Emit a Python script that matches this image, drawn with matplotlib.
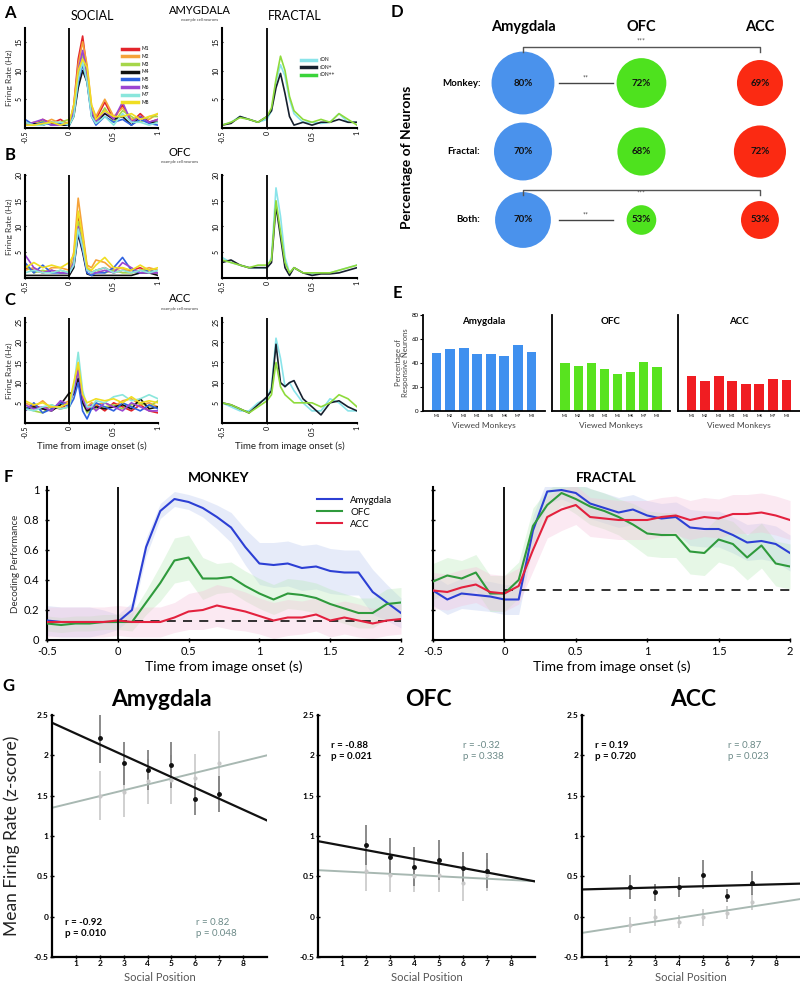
import numpy as np
import matplotlib
matplotlib.use('Agg')
import matplotlib.pyplot as plt
from matplotlib.lines import Line2D

plt.rcParams['font.family'] = ['Lato', 'DejaVu Sans']

W, H = 800, 993

# ---------------- A-C: example PSTHs ----------------
psth_t = [-0.5, -0.4, -0.3, -0.2, -0.1, 0.0, 0.05, 0.1, 0.15, 0.2, 0.25, 0.3,
          0.4, 0.5, 0.6, 0.7, 0.8, 0.9, 1.0]

social_labels = ['M1', 'M2', 'M3', 'M4', 'M5', 'M6', 'M7', 'M8']
fractal_labels = ['sDN', 'sDN+', 'sDN++']

amy_social = [
    [1.0, 0.5, 1.5, 0.8, 1.5, 0.5, 4.0, 12.0, 16.0, 10.0, 3.0, 1.5, 4.5, 1.5, 4.0, 1.0, 2.5, 1.0, 1.5],
    [0.5, 1.0, 0.8, 1.5, 0.8, 1.0, 3.5, 11.0, 15.0, 11.0, 4.0, 2.0, 5.0, 2.0, 3.5, 1.5, 2.0, 1.5, 2.5],
    [1.0, 0.5, 1.2, 0.5, 1.0, 1.5, 3.0, 9.0, 13.0, 9.0, 3.0, 1.0, 3.5, 1.0, 3.0, 2.0, 1.0, 2.0, 2.0],
    [0.5, 0.8, 0.5, 1.0, 0.5, 0.5, 2.0, 7.0, 10.0, 8.0, 2.5, 1.0, 2.5, 1.5, 2.0, 0.5, 2.0, 1.0, 1.0],
    [1.5, 0.5, 1.0, 0.5, 0.8, 0.5, 2.5, 8.0, 11.0, 8.0, 2.0, 0.5, 2.0, 1.0, 1.5, 0.5, 1.5, 0.8, 0.5],
    [0.5, 1.0, 1.5, 0.5, 0.5, 1.0, 3.0, 10.0, 13.5, 9.5, 3.0, 1.0, 3.0, 1.5, 4.5, 1.0, 2.0, 1.0, 1.5],
    [1.0, 0.5, 0.5, 1.0, 1.0, 0.5, 2.0, 8.5, 11.5, 8.0, 2.0, 0.8, 2.0, 0.5, 2.5, 1.0, 1.0, 0.5, 1.0],
    [0.5, 0.5, 0.8, 1.0, 0.5, 1.0, 4.0, 10.0, 12.0, 10.5, 4.0, 1.5, 3.0, 2.0, 2.0, 2.5, 1.5, 2.0, 2.5],
]
amy_fractal = [
    [0.5, 1.0, 2.0, 1.5, 1.0, 1.5, 3.0, 8.0, 11.0, 9.0, 5.0, 2.5, 1.0, 1.0, 0.8, 1.0, 2.5, 1.0, 1.0],
    [0.5, 0.8, 2.0, 1.5, 1.0, 2.0, 3.0, 7.0, 9.5, 6.0, 2.0, 0.5, 1.0, 0.5, 1.0, 1.0, 1.5, 1.0, 1.0],
    [0.5, 1.0, 1.8, 1.5, 1.0, 2.0, 3.5, 8.5, 12.5, 10.0, 5.5, 3.0, 1.5, 1.0, 1.5, 1.0, 2.5, 1.5, 0.5],
]
ofc_social = [
    [2.0, 1.5, 1.0, 1.5, 1.0, 1.0, 3.0, 12.0, 8.0, 2.0, 1.0, 1.5, 2.0, 1.0, 1.5, 1.5, 2.0, 1.0, 1.0],
    [1.5, 2.0, 1.0, 2.0, 2.0, 1.5, 5.0, 15.5, 9.0, 2.5, 2.0, 3.5, 3.0, 1.5, 2.0, 1.0, 1.5, 2.0, 1.5],
    [2.5, 1.0, 1.5, 1.0, 1.5, 1.0, 3.5, 11.0, 7.0, 2.0, 1.0, 1.5, 1.0, 1.5, 1.0, 1.0, 1.5, 1.5, 1.0],
    [0.5, 0.5, 0.5, 0.5, 0.5, 0.5, 2.0, 8.5, 5.0, 0.8, 0.5, 0.5, 0.5, 0.5, 0.5, 0.5, 1.0, 1.0, 0.5],
    [3.0, 1.0, 2.5, 1.0, 1.0, 1.0, 2.5, 9.0, 5.5, 1.0, 0.5, 1.0, 1.0, 2.0, 4.0, 1.5, 1.0, 1.5, 1.0],
    [4.5, 2.0, 1.0, 1.5, 1.0, 1.0, 3.0, 10.0, 6.0, 1.5, 1.0, 1.0, 1.5, 1.0, 3.0, 2.0, 1.0, 1.0, 1.0],
    [1.0, 1.5, 1.0, 1.0, 1.5, 1.0, 2.5, 9.5, 6.0, 1.5, 1.0, 1.5, 2.0, 1.0, 1.5, 1.0, 1.5, 1.0, 1.5],
    [2.0, 3.0, 2.0, 2.5, 2.0, 3.0, 4.5, 13.0, 8.0, 2.0, 1.5, 2.5, 4.0, 2.0, 2.0, 1.5, 2.5, 1.5, 2.0],
]
ofc_fractal = [
    [4.0, 3.0, 2.5, 2.0, 2.0, 2.0, 4.0, 17.5, 12.0, 4.0, 1.0, 2.0, 1.0, 0.8, 1.0, 1.0, 1.5, 2.0, 2.5],
    [3.0, 3.5, 2.5, 2.0, 2.0, 2.0, 3.0, 14.0, 8.0, 2.0, 0.5, 2.0, 1.0, 0.5, 0.8, 0.8, 1.0, 1.5, 2.0],
    [3.5, 3.0, 2.5, 2.0, 2.5, 2.5, 3.5, 15.0, 9.0, 3.0, 1.0, 2.0, 1.0, 1.0, 1.0, 1.0, 1.5, 2.0, 2.5],
]
acc_social = [
    [3.0, 4.5, 3.5, 4.0, 3.5, 5.0, 8.0, 13.0, 6.0, 3.0, 4.0, 4.5, 3.0, 5.0, 4.0, 3.0, 4.5, 3.0, 2.5],
    [5.0, 4.0, 5.5, 3.5, 4.5, 5.5, 9.0, 14.0, 7.0, 4.0, 5.0, 4.5, 5.0, 4.0, 5.5, 6.0, 4.5, 5.0, 4.0],
    [4.0, 3.0, 2.5, 4.5, 3.5, 4.0, 8.0, 12.0, 5.0, 2.5, 3.5, 3.5, 4.0, 4.5, 3.5, 4.5, 5.0, 4.0, 5.5],
    [3.5, 4.0, 3.5, 3.0, 4.5, 7.5, 7.0, 11.0, 5.0, 3.0, 3.5, 4.0, 3.5, 4.0, 4.5, 3.5, 6.0, 3.5, 4.0],
    [3.0, 5.0, 2.5, 3.5, 5.0, 4.0, 6.0, 10.0, 3.0, 1.0, 3.5, 5.0, 4.0, 3.0, 5.0, 4.0, 3.0, 4.5, 3.5],
    [4.5, 3.5, 4.0, 3.0, 5.5, 4.5, 8.0, 13.0, 6.0, 3.5, 4.5, 3.0, 5.0, 4.0, 3.0, 5.0, 4.0, 3.0, 3.0],
    [3.5, 3.0, 4.0, 4.5, 3.5, 4.0, 9.0, 17.5, 8.0, 4.0, 4.0, 5.5, 5.0, 6.5, 7.0, 5.5, 6.0, 7.0, 6.0],
    [5.5, 4.5, 5.0, 4.0, 4.0, 5.0, 10.0, 15.0, 7.0, 5.0, 5.5, 6.0, 5.5, 6.0, 5.0, 6.5, 5.0, 5.5, 5.0],
]
acc_fractal = [
    [5.0, 4.0, 3.0, 3.0, 5.0, 6.0, 9.0, 21.0, 16.0, 9.0, 10.0, 8.0, 5.0, 3.0, 3.0, 6.0, 5.0, 3.0, 3.0],
    [5.0, 4.5, 3.5, 2.5, 4.5, 6.5, 8.0, 19.5, 10.0, 9.0, 10.0, 10.5, 6.0, 4.0, 2.0, 5.0, 5.5, 4.0, 3.0],
    [5.0, 4.5, 3.5, 2.5, 4.0, 5.5, 7.0, 15.0, 9.0, 7.0, 6.0, 5.0, 5.0, 5.0, 4.0, 5.0, 7.0, 6.0, 4.0],
]

# ---------------- D: responsive neurons ----------------
regions = ['Amygdala', 'OFC', 'ACC']
stim_rows = ['Monkey:', 'Fractal:', 'Both:']
pct_amy = [80, 70, 70]
pct_ofc = [72, 68, 53]
pct_acc = [69, 72, 53]
n_amy = [99, 84, 78]
n_ofc = [62, 58, 22]
n_acc = [53, 68, 36]

# ---------------- E: responsive per viewed monkey ----------------
viewed = ['M1', 'M2', 'M3', 'M4', 'M5', 'M6', 'M7', 'M8']
bar_amy = [48.6, 51.4, 52.2, 47.2, 47.2, 45.8, 54.7, 49.4]
bar_ofc = [39.7, 37.8, 40.3, 35.3, 30.6, 32.5, 41.1, 36.7]
bar_acc = [28.9, 24.7, 28.9, 24.7, 22.2, 22.8, 26.9, 25.8]

# ---------------- F: decoding ----------------
dec_t = [-0.5, -0.4, -0.3, -0.2, -0.1, 0.0, 0.1, 0.2, 0.3, 0.4, 0.5, 0.6, 0.7,
         0.8, 0.9, 1.0, 1.1, 1.2, 1.3, 1.4, 1.5, 1.6, 1.7, 1.8, 1.9, 2.0]
mk_amy = [0.13, 0.12, 0.12, 0.12, 0.12, 0.12, 0.20, 0.62, 0.86, 0.94, 0.92, 0.88, 0.82,
          0.75, 0.62, 0.51, 0.50, 0.51, 0.48, 0.49, 0.46, 0.45, 0.45, 0.32, 0.25, 0.18]
mk_ofc = [0.11, 0.10, 0.11, 0.11, 0.12, 0.12, 0.12, 0.25, 0.38, 0.53, 0.55, 0.41, 0.41,
          0.42, 0.36, 0.31, 0.27, 0.31, 0.30, 0.28, 0.24, 0.21, 0.18, 0.18, 0.24, 0.25]
mk_acc = [0.12, 0.12, 0.12, 0.12, 0.12, 0.13, 0.12, 0.12, 0.12, 0.15, 0.19, 0.20, 0.23,
          0.21, 0.19, 0.16, 0.13, 0.15, 0.15, 0.17, 0.13, 0.15, 0.13, 0.11, 0.13, 0.14]
mk_amy_sem = [0.10, 0.10, 0.10, 0.10, 0.08, 0.05, 0.05, 0.06, 0.05, 0.05, 0.05, 0.06, 0.08,
              0.10, 0.12, 0.14, 0.15, 0.15, 0.15, 0.15, 0.15, 0.15, 0.15, 0.15, 0.12, 0.10]
mk_ofc_sem = [0.05, 0.05, 0.05, 0.05, 0.05, 0.05, 0.06, 0.08, 0.12, 0.15, 0.15, 0.14, 0.10,
              0.10, 0.10, 0.10, 0.10, 0.10, 0.10, 0.10, 0.10, 0.10, 0.10, 0.10, 0.10, 0.10]
mk_acc_sem = [0.10, 0.10, 0.10, 0.10, 0.10, 0.10, 0.10, 0.10, 0.10, 0.10, 0.12, 0.13, 0.14,
              0.14, 0.13, 0.12, 0.12, 0.12, 0.11, 0.11, 0.11, 0.11, 0.11, 0.10, 0.10, 0.10]
fr_amy = [0.33, 0.27, 0.31, 0.30, 0.29, 0.27, 0.27, 0.73, 0.99, 1.00, 0.98, 0.91, 0.88,
          0.85, 0.87, 0.83, 0.81, 0.82, 0.75, 0.74, 0.74, 0.70, 0.65, 0.66, 0.64, 0.58]
fr_ofc = [0.39, 0.43, 0.41, 0.45, 0.31, 0.31, 0.40, 0.76, 0.90, 0.98, 0.94, 0.89, 0.86,
          0.82, 0.77, 0.71, 0.70, 0.70, 0.59, 0.58, 0.67, 0.64, 0.55, 0.63, 0.51, 0.49]
fr_acc = [0.33, 0.32, 0.35, 0.37, 0.32, 0.31, 0.36, 0.60, 0.82, 0.87, 0.90, 0.82, 0.81,
          0.80, 0.80, 0.80, 0.82, 0.83, 0.80, 0.82, 0.81, 0.84, 0.84, 0.85, 0.83, 0.80]
fr_amy_sem = [0.10, 0.10, 0.10, 0.10, 0.10, 0.10, 0.10, 0.10, 0.08, 0.06, 0.08, 0.10, 0.10,
              0.10, 0.10, 0.10, 0.10, 0.10, 0.12, 0.12, 0.12, 0.12, 0.12, 0.12, 0.12, 0.12]
fr_ofc_sem = [0.12, 0.12, 0.12, 0.12, 0.12, 0.12, 0.12, 0.12, 0.10, 0.08, 0.10, 0.12, 0.12,
              0.12, 0.14, 0.15, 0.15, 0.15, 0.15, 0.15, 0.15, 0.15, 0.15, 0.15, 0.15, 0.15]
fr_acc_sem = [0.12, 0.12, 0.12, 0.12, 0.12, 0.12, 0.12, 0.14, 0.14, 0.14, 0.13, 0.13, 0.13,
              0.13, 0.13, 0.13, 0.13, 0.13, 0.13, 0.13, 0.13, 0.13, 0.13, 0.13, 0.13, 0.13]
n_monkeys = 8
n_fractals = 3

# ---------------- G: social position ----------------
social_pos = [2, 3, 4, 5, 6, 7]
g_amy_dark = [2.21, 1.90, 1.82, 1.88, 1.46, 1.52]
g_amy_dark_err = [0.30, 0.27, 0.25, 0.28, 0.20, 0.22]
g_amy_grey = [1.50, 1.55, 1.68, 1.70, 1.72, 1.90]
g_amy_grey_err = [0.30, 0.32, 0.28, 0.30, 0.30, 0.40]
g_ofc_dark = [0.89, 0.74, 0.62, 0.70, 0.60, 0.57]
g_ofc_dark_err = [0.25, 0.24, 0.24, 0.25, 0.20, 0.22]
g_ofc_grey = [0.57, 0.52, 0.50, 0.52, 0.42, 0.52]
g_ofc_grey_err = [0.25, 0.22, 0.20, 0.22, 0.22, 0.20]
g_acc_dark = [0.37, 0.30, 0.37, 0.52, 0.26, 0.42]
g_acc_dark_err = [0.15, 0.10, 0.12, 0.18, 0.08, 0.15]
g_acc_grey = [-0.10, -0.01, -0.06, -0.01, 0.05, 0.18]
g_acc_grey_err = [0.10, 0.10, 0.08, 0.10, 0.08, 0.10]
g_stats = [('r = -0.92\np = 0.010', 'r = 0.82\np = 0.048'),
           ('r = -0.88\np = 0.021', 'r = -0.32\np = 0.338'),
           ('r = 0.19\np = 0.720', 'r = 0.87\np = 0.023')]

# ---------------- figure ----------------
fig = plt.figure(figsize=(8, 9.93), dpi=100)


def box(x0, y0, x1, y1):
    return fig.add_axes([x0 / W, 1 - y1 / H, (x1 - x0) / W, (y1 - y0) / H])


def ftext(x, y, s, **kw):
    fig.text(x / W, 1 - y / H, s, **kw)


def clean(ax, lw=1.5):
    for s in ['top', 'right']:
        ax.spines[s].set_visible(False)
    for s in ['left', 'bottom']:
        ax.spines[s].set_linewidth(lw)
    ax.patch.set_alpha(0)


social_colors = ['#e3242b', '#f5a23a', '#a6d64a', '#111111', '#2f62e0', '#9b45d2', '#8ae6dc', '#f0de22']
fractal_colors = ['#8ae4ea', '#16202e', '#8edb3c']
legend_fractal_colors = ['#8ae4ea', '#16202e', '#3ad43a']


def psth(ax, curves, colors, ylim, yticks):
    for c, col in zip(curves, colors):
        ax.plot(psth_t, c, color=col, lw=1.2)
    ax.axvline(0, color='black', lw=1.3)
    ax.set_xlim(-0.5, 1)
    ax.set_ylim(*ylim)
    ax.set_xticks([-0.5, 0, 0.5, 1])
    ax.set_xticklabels(['-0.5', '0', '0.5', '1'], rotation=90, fontsize=5)
    ax.set_yticks(yticks)
    ax.set_yticklabels([str(v) for v in yticks], rotation=90, fontsize=5, va='center')
    ax.tick_params(length=2, width=0.8, pad=1, direction='inout')
    clean(ax)


rows = [(28, 128, amy_social, amy_fractal, (0, 17.4), [5, 10, 15]),
        (175, 278, ofc_social, ofc_fractal, (0, 20), [5, 10, 15, 20]),
        (318, 423, acc_social, acc_fractal, (0, 26), [5, 10, 15, 20, 25])]
psth_axes = []
for y0, y1, soc, frac, yl, yt in rows:
    a1 = box(25, y0, 158, y1)
    psth(a1, soc, social_colors, yl, yt)
    a2 = box(222, y0, 357, y1)
    psth(a2, frac, fractal_colors, yl, yt)
    ftext(9, (y0 + y1) / 2, 'Firing Rate (Hz)', rotation=90, fontsize=6,
          ha='center', va='center', color='#333333')
    psth_axes.append((a1, a2))

a1, a2 = psth_axes[0]
h1 = [Line2D([], [], color=c, lw=2.5) for c in social_colors]
a1.legend(h1, social_labels, loc='upper left', bbox_to_anchor=(0.7, 0.86), fontsize=3.5,
          frameon=False, handlelength=3.2, labelspacing=0.55, handletextpad=0.8)
h2 = [Line2D([], [], color=c, lw=2.5) for c in legend_fractal_colors]
a2.legend(h2, fractal_labels, loc='upper left', bbox_to_anchor=(0.55, 0.75), fontsize=3.5,
          frameon=False, handlelength=3.2, labelspacing=0.5, handletextpad=0.8)

for ax in psth_axes[2]:
    ax.set_xlabel('Time from image onset (s)', fontsize=7, labelpad=2, color='#222222')

ftext(92, 16, 'SOCIAL', fontsize=9, ha='center', va='center')
ftext(295, 16, 'FRACTAL', fontsize=9, ha='center', va='center')
for y, name in [(10, 'AMYGDALA'), (152, 'OFC'), (299, 'ACC')]:
    ftext(200 if name == 'AMYGDALA' else 180, y, name, fontsize=8, ha='center', va='center')
    ftext(200 if name == 'AMYGDALA' else 180, y + 10, 'example cell neurons', fontsize=3,
          ha='center', va='center', color='#444444')

# ---------------- D ----------------
axd = box(395, 0, 800, 290)
axd.set_xlim(-1.08, 2.338)
axd.set_ylim(3.022, -1.212)
axd.axis('off')
col_colors = ['#4a92ec', '#4ee21e', '#fb2a12']
for ci, (pcts, ns) in enumerate([(pct_amy, n_amy), (pct_ofc, n_ofc), (pct_acc, n_acc)]):
    axd.scatter([ci] * 3, [0, 1, 2], s=np.array(ns) * 20.7, color=col_colors[ci],
                edgecolors='none', zorder=2)
    for ri, p in enumerate(pcts):
        axd.text(ci, ri, f'{p}%', fontsize=7, fontweight='bold', ha='center', va='center',
                 color='#111111', zorder=3)
    axd.text(ci, -0.82, regions[ci], fontsize=10.5, fontweight='bold', ha='center', va='center')
for ri, lab in enumerate(stim_rows):
    axd.text(-0.36, ri, lab, fontsize=7, fontweight='bold', ha='right', va='center')
axd.plot([0, 0, 2, 2], [-0.45, -0.53, -0.53, -0.45], color='#555555', lw=1)
axd.text(1, -0.56, '***', fontsize=5, ha='center', va='bottom', color='#555555')
axd.plot([0, 0, 2, 2], [1.64, 1.56, 1.56, 1.64], color='#555555', lw=1)
axd.text(1, 1.60, '***', fontsize=5, ha='center', va='center', color='#555555')
for ri in [0, 2]:
    axd.plot([0.3, 0.76], [ri, ri], color='#444444', lw=1)
    axd.text(0.53, ri - 0.02, '**', fontsize=5, ha='center', va='bottom', color='#444444')
axd.text(-0.98, 1.08, 'Percentage of Neurons', rotation=90, fontsize=10, fontweight='bold',
         ha='center', va='center')

# ---------------- E ----------------
bar_sets = [(bar_amy, 'Amygdala', '#3f90ef', 423, 545),
            (bar_ofc, 'OFC', '#58e31f', 552, 670),
            (bar_acc, 'ACC', '#f01d22', 678, 800)]
for k, (vals, name, col, x0, x1) in enumerate(bar_sets):
    ax = box(x0, 315, x1, 411)
    ax.bar(range(1, 9), vals, width=0.72, color=col)
    ax.set_xlim(0.0, 9.0)
    ax.set_ylim(0, 80)
    ax.set_xticks(range(1, 9))
    ax.set_xticklabels(viewed, fontsize=3)
    ax.tick_params(axis='x', length=0, pad=2)
    if k == 0:
        ax.set_yticks([0, 20, 40, 60, 80])
        ax.set_yticklabels(['0', '20', '40', '60', '80'], fontsize=4.5)
        ax.tick_params(axis='y', length=2, pad=1)
    else:
        ax.set_yticks([])
    ax.set_xlabel('Viewed Monkeys', fontsize=6, labelpad=3, color='#444444')
    ax.text(0.5, 0.93, name, transform=ax.transAxes, fontsize=7, fontweight='bold',
            ha='center', va='center')
    clean(ax, 1.3)
ftext(402, 363, 'Percentage of\nResponsive Neurons', rotation=90, fontsize=5.5,
      ha='center', va='center', color='#444444', linespacing=1.0)

# ---------------- F ----------------
line_cols = ['#2c3fd4', '#2f9a3c', '#e3213e']
band_cols = ['#b8c8f0', '#b8eab8', '#f5c0da']
for k, (x0, x1, title, series, chance) in enumerate([
        (47, 401, 'MONKEY', [(mk_amy, mk_amy_sem), (mk_ofc, mk_ofc_sem), (mk_acc, mk_acc_sem)], 1 / n_monkeys),
        (433, 790, 'FRACTAL', [(fr_amy, fr_amy_sem), (fr_ofc, fr_ofc_sem), (fr_acc, fr_acc_sem)], 1 / n_fractals)]):
    ax = box(x0, 487, x1, 640)
    tt = np.array(dec_t)
    for (m, s), lc, bc in zip(series, line_cols, band_cols):
        m = np.array(m)
        s = np.array(s)
        ax.fill_between(tt, m - s, m + s, color=bc, alpha=0.35, lw=0)
    ax.hlines(chance, 0, 2, colors='#222222', linestyles=(0, (5, 4)), lw=1.3, zorder=3)
    for (m, s), lc, name in zip(series, line_cols, regions):
        ax.plot(tt, m, color=lc, lw=1.5, label=name, zorder=4)
    ax.axvline(0, color='black', lw=1.3, zorder=5)
    ax.set_xlim(-0.5, 2)
    ax.set_ylim(0, 1.02)
    ax.set_xticks([-0.5, 0, 0.5, 1, 1.5, 2])
    ax.set_xticklabels(['-0.5', '0', '0.5', '1', '1.5', '2'], fontsize=8)
    ax.set_yticks([0, 0.2, 0.4, 0.6, 0.8, 1])
    if k == 0:
        ax.set_yticklabels(['0', '0.2', '0.4', '0.6', '0.8', '1'], fontsize=8)
        ax.set_ylabel('Decoding Performance', fontsize=7, labelpad=3, color='#333333')
        ax.legend(loc='upper right', bbox_to_anchor=(1.0, 1.0), fontsize=7, frameon=False,
                  handlelength=2.6, labelspacing=0.3)
    else:
        ax.set_yticklabels([])
    ax.tick_params(length=3, width=1, direction='inout')
    ax.tick_params(axis='x', pad=3)
    ax.tick_params(axis='y', pad=4)
    ax.set_xlabel('Time from image onset (s)', fontsize=10, labelpad=2)
    clean(ax, 1.5)
    ftext((x0 + x1) / 2 - 5, 478, title, fontsize=10, fontweight='bold', ha='center', va='center')

# ---------------- G ----------------
g_sets = [(52, 267, 'Amygdala', g_amy_dark, g_amy_dark_err, g_amy_grey, g_amy_grey_err),
          (318, 535, 'OFC', g_ofc_dark, g_ofc_dark_err, g_ofc_grey, g_ofc_grey_err),
          (582, 800, 'ACC', g_acc_dark, g_acc_dark_err, g_acc_grey, g_acc_grey_err)]
grey_line = '#a8b8b2'
grey_text = '#6c8a88'
xfit = np.array([0, 9])
for k, (x0, x1, name, dm, de, gm, ge) in enumerate(g_sets):
    ax = box(x0, 715, x1, 957)
    ax.errorbar(social_pos, gm, yerr=ge, fmt='o', ms=2, color='#c8c8c8', ecolor='#c8c8c8',
                elinewidth=1.2, capsize=0)
    ax.errorbar(social_pos, dm, yerr=de, fmt='o', ms=2.5, color='#111111', ecolor='#777777',
                elinewidth=1.2, capsize=0)
    pg = np.polyfit(social_pos, gm, 1)
    pd_ = np.polyfit(social_pos, dm, 1)
    ax.plot(xfit, np.polyval(pg, xfit), color=grey_line, lw=1.4)
    ax.plot(xfit, np.polyval(pd_, xfit), color='#111111', lw=1.6)
    ax.set_xlim(0, 9)
    ax.set_ylim(-0.5, 2.5)
    ax.set_xticks(range(1, 9))
    ax.set_xticklabels([str(i) for i in range(1, 9)], fontsize=6, fontweight='bold')
    ax.set_yticks([-0.5, 0, 0.5, 1, 1.5, 2, 2.5])
    ax.set_yticklabels(['-0.5', '0', '0.5', '1', '1.5', '2', '2.5'], fontsize=6, fontweight='bold')
    ax.tick_params(length=3, width=1, pad=1, direction='inout')
    ax.set_xlabel('Social Position', fontsize=8, labelpad=3, color='#555555')
    clean(ax, 1.6)
    dark_txt, grey_txt = g_stats[k]
    ty = 0.12 if k == 0 else 0.85
    ax.text(0.06, ty, dark_txt, transform=ax.transAxes, fontsize=7, fontweight='bold',
            va='center', ha='left', linespacing=1.3)
    ax.text(0.67, ty, grey_txt, transform=ax.transAxes, fontsize=7, va='center', ha='left',
            color=grey_text, linespacing=1.3)
    ftext((x0 + x1) / 2 + 2, 700, name, fontsize=16.5, fontweight='bold', ha='center', va='center')
ftext(12, 836, 'Mean Firing Rate (z-score)', rotation=90, fontsize=12.5, ha='center', va='center',
      color='#222222')

# panel letters
for lab, x, y in [('A', 10, 13), ('B', 10, 155), ('C', 10, 300), ('D', 397, 12),
                  ('E', 397, 293), ('F', 8, 477), ('G', 8, 686)]:
    ftext(x, y, lab, fontsize=12, fontweight='bold', ha='center', va='center')

fig.savefig('out.png', dpi=100)
